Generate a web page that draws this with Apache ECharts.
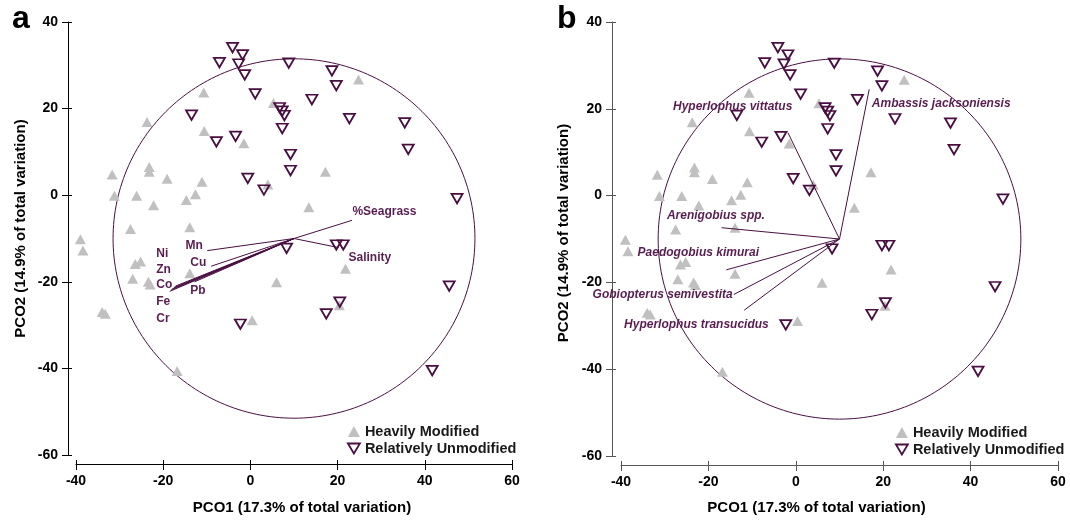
<!DOCTYPE html>
<html><head><meta charset="utf-8">
<script src="https://cdn.jsdelivr.net/npm/echarts@6/dist/echarts.min.js"></script>
<style>html,body{margin:0;padding:0;background:#fff}#c{width:1070px;height:520px}</style>
</head><body><div id="c"></div>
<script>
// ---- data ----
const heavyX = [-10.7,-23.7,-10.6,-1.5,-31.7,-23.2,-23.2,-19.1,-11.1,-31.2,-26.1,-22.2,-14.7,-12.6,-27.5,-13.9,-39.0,4.0,-38.4,-26.4,-25.2,-13.9,-27.0,-23.4,-23.0,-34.0,-33.3,0.4,-16.8,24.8,5.3,17.2,13.4,21.8,6.0,20.4];
const heavyY = [23.7,16.9,14.8,12.0,4.8,6.5,5.4,3.8,3.1,-0.1,-0.1,-2.3,-1.1,0.2,-7.8,-7.4,-10.2,2.5,-12.8,-15.9,-15.3,-18.0,-19.3,-20.0,-20.6,-27.0,-27.4,-28.9,-40.6,26.7,21.3,5.4,-2.8,-17.0,-20.1,-25.4];
const unmodX = [-4.1,-1.8,-7.1,-2.7,-1.3,1.1,-13.5,-7.8,-3.4,-0.6,3.1,8.8,18.7,19.7,14.1,6.7,7.3,7.8,7.3,22.7,35.4,36.2,9.2,9.2,47.4,8.3,19.7,21.3,20.5,17.4,-2.3,45.6,41.7];
const unmodY = [34.1,32.4,30.6,30.3,27.8,23.4,18.5,12.3,13.6,3.9,1.2,30.5,28.7,25.3,22.1,20.2,19.4,18.4,15.4,17.7,16.7,10.6,9.4,5.7,-0.8,-12.3,-11.5,-11.5,-24.7,-27.4,-29.8,-21.0,-40.5];

const vectorOrigin = [10, -10];
const circleRadius = 41.5;

const envNames = ['%Seagrass','Salinity','Mn','Cu','Ni','Zn','Co','Fe','Cr','Pb'];
const envX = [23.3, 20.2, -9.9, -9.0, -17.2, -17.5, -17.9, -18.2, -18.5, -12.8];
const envY = [-5.8, -12.1, -12.8, -16.4, -21.0, -21.3, -21.6, -21.9, -22.2, -20.0];
const envLabelX = [23.4, 22.5, -14.9, -13.8, -21.6, -21.6, -21.6, -21.6, -21.6, -13.8];
const envLabelY = [-3.9, -14.5, -11.6, -15.6, -13.6, -17.1, -20.7, -24.5, -28.6, -22.0];

const spNames = ['Hyperlophus vittatus','Ambassis jacksoniensis','Arenigobius spp.','Paedogobius kimurai','Gobiopterus semivestita','Hyperlophus transucidus'];
const spX = [-1.8, 16.8, -17.0, -15.9, -14.2, -11.8];
const spY = [14.5, 24.5, -7.4, -17.1, -22.8, -26.4];
const spLabelX = [-28.1, 17.4, -29.5, -36.2, -46.5, -39.3];
const spLabelY = [20.6, 21.2, -4.6, -13.1, -22.9, -29.7];

const xTicks = {min:-40, max:60, interval:20};
const yTicks = {min:-60, max:40, interval:20};
const xTitle = 'PCO1 (17.3% of total variation)';
const yTitle = 'PCO2 (14.9% of total variation)';
const seriesNames = ['Heavily Modified','Relatively Unmodified'];

// ---- styles ----
const FONT = '"Liberation Sans", Arial, sans-serif';
const PURPLE = '#4a0f42';
const LABELPURPLE = '#5a1d52';
const GRAY = '#c0c0c0';
const DOWN = 'path://M0,0 L12,0 L6,10 Z';

function axesFor(grid, color, xNamePad, yNamePad, xGap, yGap, xOff, yOff) {
  const lab = {fontSize:14, fontWeight:'bold', color:'#000', fontFamily:FONT};
  const x = [
    Object.assign({gridIndex:grid, type:'value', position:'bottom', offset:xOff,
      axisLine:{onZero:false, lineStyle:{color:color,width:1}}, axisTick:{length:6,lineStyle:{color:color}},
      axisLabel:Object.assign({margin:10}, lab), splitLine:{show:false},
      name:xTitle, nameLocation:'middle', nameGap:xGap,
      nameTextStyle:{fontSize:15,fontWeight:'bold',color:'#000',fontFamily:FONT,padding:xNamePad}}, xTicks),
    Object.assign({gridIndex:grid, type:'value', position:'bottom', offset:xOff,
      axisLine:{show:false, onZero:false}, axisTick:{inside:true,length:4,lineStyle:{color:color}},
      axisLabel:{show:false}, splitLine:{show:false}}, xTicks)
  ];
  const y = [
    Object.assign({gridIndex:grid, type:'value', position:'left', offset:yOff,
      axisLine:{onZero:false, lineStyle:{color:color,width:1}}, axisTick:{length:6,lineStyle:{color:color}},
      axisLabel:Object.assign({margin:10}, lab), splitLine:{show:false},
      name:yTitle, nameLocation:'middle', nameGap:yGap, nameRotate:90,
      nameTextStyle:{fontSize:15,fontWeight:'bold',color:'#000',fontFamily:FONT,padding:yNamePad}}, yTicks),
    Object.assign({gridIndex:grid, type:'value', position:'left', offset:yOff,
      axisLine:{show:false, onZero:false}, axisTick:{inside:true,length:4,lineStyle:{color:color}},
      axisLabel:{show:false}, splitLine:{show:false}}, yTicks)
  ];
  return {x, y};
}

const A = axesFor(0, '#000', [0,0,0,16], [0,0,0,20], 36, 40, 9, 8);
const B = axesFor(1, '#555', [0,46,0,0], [0,0,0,12], 35, 41, 9, 9);

function circleSeries(ax) {
  return {type:'custom', xAxisIndex:ax, yAxisIndex:ax, silent:true, z:1,
    data:[[vectorOrigin[0], vectorOrigin[1], circleRadius]],
    renderItem(params, api) {
      const cx = api.value(0), cy = api.value(1), r = api.value(2);
      const pts = [];
      for (let i = 0; i <= 240; i++) {
        const t = i / 240 * 2 * Math.PI;
        pts.push(api.coord([cx + r * Math.cos(t), cy + r * Math.sin(t)]));
      }
      return {type:'polyline', shape:{points:pts}, style:{fill:null, stroke:PURPLE, lineWidth:1}};
    }};
}

function vectorSeries(ax, names, xs, ys, lxs, lys, italic) {
  return {type:'custom', xAxisIndex:ax, yAxisIndex:ax, silent:true, z:5,
    data: names.map((n,i)=>[xs[i], ys[i], lxs[i], lys[i]]),
    renderItem(params, api) {
      const o = api.coord(vectorOrigin);
      const e = api.coord([api.value(0), api.value(1)]);
      const l = api.coord([api.value(2), api.value(3)]);
      return {type:'group', children:[
        {type:'line', shape:{x1:o[0],y1:o[1],x2:e[0],y2:e[1]}, style:{stroke:PURPLE, lineWidth:1}},
        {type:'text', x:l[0], y:l[1], style:{text:names[params.dataIndex], fill:LABELPURPLE,
          font:(italic?'italic ':'') + 'bold 12px ' + FONT, textAlign:'left', textVerticalAlign:'middle'}}
      ]};
    }};
}

function pointSeries(ax) {
  return [
    {type:'scatter', name:seriesNames[0], xAxisIndex:ax, yAxisIndex:ax, symbol:'triangle', symbolSize:[11,10], z:2,
      itemStyle:{color:GRAY, opacity:1}, data: heavyX.map((x,i)=>[x, heavyY[i]])},
    {type:'scatter', name:seriesNames[1], xAxisIndex:ax, yAxisIndex:ax, symbol:DOWN, symbolSize:[11,9.5], z:3,
      itemStyle:{color:'rgba(255,255,255,0)', borderColor:PURPLE, borderWidth:1.8, opacity:1},
      data: unmodX.map((x,i)=>[x, unmodY[i]])}
  ];
}

function legendAt(left, top) {
  return {left, top, orient:'vertical', itemWidth:12, itemHeight:11, itemGap:2, selectedMode:false,
    textStyle:{fontSize:14.5, fontWeight:'bold', color:'#1a1a1a', fontFamily:FONT},
    data:[{name:seriesNames[0], icon:'triangle', itemStyle:{color:GRAY}},
          {name:seriesNames[1], icon:DOWN, itemStyle:{color:'rgba(255,255,255,0)', borderColor:PURPLE, borderWidth:1.8}}]};
}

const option = {
  animation:false,
  backgroundColor:'#fff',
  textStyle:{fontFamily:FONT},
  title:[
    {text:'a', left:7, top:-2, textStyle:{fontSize:32, fontWeight:'bold', color:'#000', fontFamily:FONT}},
    {text:'b', left:552, top:-2, textStyle:{fontSize:32, fontWeight:'bold', color:'#000', fontFamily:FONT}}
  ],
  legend:[legendAt(342, 419), legendAt(890, 420)],
  grid:[
    {left:76, top:22, width:436, height:435},
    {left:621, top:22, width:437, height:438}
  ],
  xAxis:[...A.x, ...B.x],
  yAxis:[...A.y, ...B.y],
  series:[
    circleSeries(0), ...pointSeries(0), vectorSeries(0, envNames, envX, envY, envLabelX, envLabelY, false),
    circleSeries(2), ...pointSeries(2), vectorSeries(2, spNames, spX, spY, spLabelX, spLabelY, true)
  ]
};
const chart = echarts.init(document.getElementById('c'), null, {renderer:'canvas'});
chart.setOption(option);
</script></body></html>
